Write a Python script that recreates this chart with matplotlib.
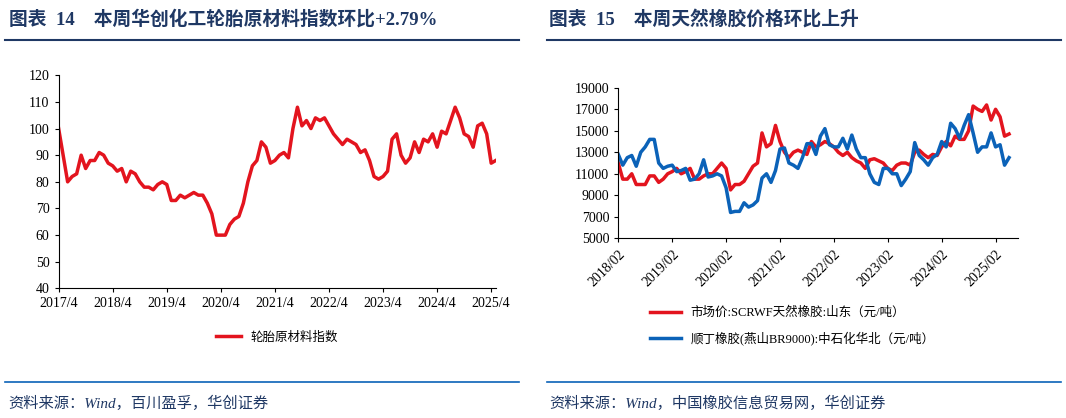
import matplotlib
matplotlib.use("Agg")
import matplotlib.pyplot as plt
import pandas as pd

plt.rcParams["font.family"] = ["Liberation Serif", "Noto Sans CJK SC"]

# left: tyre raw material index, monthly from 2017/4
tyre_index = [100, 90, 80, 82, 83, 90, 85, 88, 88, 91, 90, 87, 86, 84, 85, 80, 84, 83, 80, 78, 78,
              77, 79, 80, 79, 73, 73, 75, 74, 75, 76, 75, 75, 72, 68, 60, 60, 60, 64, 66, 67, 72,
              80, 86, 88, 95, 93, 87, 88, 90, 91, 89, 100, 108, 101, 103, 100, 104, 103, 104, 101,
              98, 96, 94, 96, 95, 94, 91, 92, 88, 82, 81, 82, 84, 96, 98, 90, 87, 89, 95, 91, 96,
              95, 98, 93, 99, 98, 103, 108, 104, 98, 97, 93, 101, 102, 98, 87, 88]
left_ticks = ["2017/4", "2018/4", "2019/4", "2020/4", "2021/4", "2022/4", "2023/4", "2024/4", "2025/4"]

# right: rubber prices, monthly from 2018/02
scrwf = [12000, 10500, 10500, 11000, 10000, 10000, 10000, 10800, 10800, 10200, 10500, 11000,
         11200, 11500, 11000, 11200, 11500, 10500, 10500, 10800, 11000, 11000, 11500, 12000,
         11500, 9500, 10000, 10000, 10300, 11000, 11700, 12000, 14800, 13500, 13800, 15500,
         14000, 13000, 12500, 13000, 13200, 13000, 12800, 14000, 13500, 13700, 14000, 13800,
         13500, 13000, 12700, 13000, 12500, 12200, 12000, 11500, 12300, 12400, 12200, 12000,
         11500, 11300, 11800, 12000, 12000, 11800, 13000, 13200, 12800, 12500, 12800, 12700,
         13500, 14000, 13600, 14500, 14200, 14200, 15000, 17300, 17000, 16800, 17400, 16000,
         17000, 16300, 14500, 14700]
br9000 = [12800, 11800, 12500, 12700, 11700, 13000, 13500, 14200, 14200, 12000, 11500, 11700,
          11800, 11200, 11300, 11500, 10400, 10500, 11000, 12300, 10700, 10800, 11000, 10800,
          9700, 7400, 7500, 7500, 8300, 7900, 8100, 8500, 10600, 11000, 10200, 11300,
          13300, 13400, 12000, 11800, 11500, 12500, 13800, 13800, 12800, 14500, 15200, 13700,
          13500, 13500, 14300, 13300, 14600, 13300, 12500, 12500, 11000, 10200, 10000, 11500,
          11500, 11000, 11000, 9900, 10500, 11200, 13900, 12700, 12300, 11800, 12500, 12800,
          14000, 13500, 15700, 15200, 14300, 15500, 16500, 14800, 13000, 13500, 13500, 14800,
          13500, 13700, 11800, 12500]
right_ticks = ["2018/02", "2019/02", "2020/02", "2021/02", "2022/02", "2023/02", "2024/02", "2025/02"]

red = "#E3141E"
blue = "#0B62B8"
navy = "#1F3864"

fig = plt.figure(figsize=(10.66, 4.18), dpi=100)

# headers and footers
fig.text(0.008, 0.955, "图表  14    本周华创化工轮胎原材料指数环比+2.79%", fontsize=13.5, fontweight="bold", color=navy, va="center")
fig.text(0.515, 0.955, "图表  15    本周天然橡胶价格环比上升", fontsize=13.5, fontweight="bold", color=navy, va="center")
fig.add_artist(plt.Line2D([0.005, 0.487], [0.905, 0.905], color=navy, lw=1.5))
fig.add_artist(plt.Line2D([0.513, 0.995], [0.905, 0.905], color=navy, lw=1.5))
fig.add_artist(plt.Line2D([0.005, 0.487], [0.085, 0.085], color=blue, lw=1.2))
fig.add_artist(plt.Line2D([0.513, 0.995], [0.085, 0.085], color=blue, lw=1.2))
fig.text(0.008, 0.035, "资料来源：Wind，百川盈孚，华创证券", fontsize=11, style="italic", color=navy, va="center")
fig.text(0.515, 0.035, "资料来源：Wind，中国橡胶信息贸易网，华创证券", fontsize=11, style="italic", color=navy, va="center")

# left chart
ax1 = fig.add_axes([0.055, 0.31, 0.41, 0.51])
x1 = range(len(tyre_index))
ax1.plot(x1, tyre_index, color=red, lw=2.5, label="轮胎原材料指数")
ax1.set_ylim(40, 120)
ax1.set_yticks(range(40, 121, 10))
ax1.set_xlim(0, len(tyre_index) - 1)
ax1.set_xticks([i * 12 for i in range(len(left_ticks))])
ax1.set_xticklabels(left_ticks)
for s in ["top", "right"]:
    ax1.spines[s].set_visible(False)
ax1.tick_params(labelsize=10, length=3)
ax1.legend(loc="upper center", bbox_to_anchor=(0.5, -0.15), frameon=False, fontsize=9)

# right chart
ax2 = fig.add_axes([0.58, 0.43, 0.375, 0.36])
dates = pd.date_range("2018-02-01", periods=len(scrwf), freq="MS")
x2 = range(len(scrwf))
ax2.plot(x2, scrwf, color=red, lw=2.5, label="市场价:SCRWF天然橡胶:山东（元/吨）")
ax2.plot(x2, br9000, color=blue, lw=2.5, label="顺丁橡胶(燕山BR9000):中石化华北（元/吨）")
ax2.set_ylim(5000, 19000)
ax2.set_yticks(range(5000, 19001, 2000))
ax2.set_xlim(0, len(dates) + 1)
ax2.set_xticks([i * 12 for i in range(len(right_ticks))])
ax2.set_xticklabels(right_ticks, rotation=45, ha="right", rotation_mode="anchor")
for s in ["top", "right"]:
    ax2.spines[s].set_visible(False)
ax2.tick_params(labelsize=10, length=3)
ax2.legend(loc="upper left", bbox_to_anchor=(0.05, -0.38), frameon=False, fontsize=9,
           handlelength=2.5, labelspacing=1.0)

fig.savefig("out.png", dpi=100)
